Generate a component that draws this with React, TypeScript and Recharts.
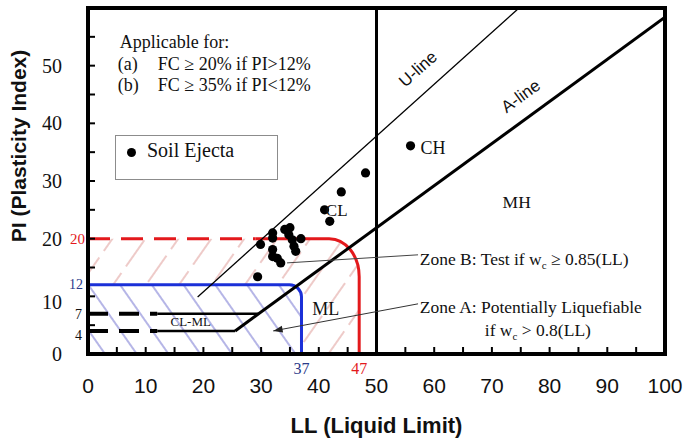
import React from "react";
import {
  ComposedChart, XAxis, YAxis, Line, Scatter, Legend,
  ReferenceArea, ReferenceLine, ReferenceDot,
} from "recharts";

// soil ejecta samples (LL, PI)
const ejectaLL = [48.1, 43.9, 41.0, 41.9, 55.9, 29.9, 32.0, 32.0, 34.1, 35.0, 34.8, 35.4, 36.9, 35.7, 36.0, 32.0, 32.0, 32.8, 33.4, 29.4];
const ejectaPI = [31.4, 28.1, 25.0, 23.0, 36.1, 19.0, 21.0, 20.1, 21.6, 21.9, 20.7, 19.8, 20.0, 18.7, 17.8, 18.1, 16.9, 16.6, 15.8, 13.4];

const xTicks = [0, 5, 10, 15, 20, 25, 30, 35, 40, 45, 50, 55, 60, 65, 70, 75, 80, 85, 90, 95, 100];
const yTicks = [0, 5, 10, 15, 20, 25, 30, 35, 40, 45, 50, 55, 60];

// A-line / U-line end points
const aLineLL = [25.5, 100];
const aLinePI = [4, 58.4];
const uLineLL = [19, 74.7];
const uLinePI = [9.9, 60];

// CL-ML band: PI levels, where the dashes stop, where each meets the A-line
const clmlPI = [4, 7];
const clmlDashEnd = 12;
const clmlEndLL = [25.5, 29.6];

// liquefaction zones (Bray & Sancio)
const zoneBLL = 47;
const zoneBPI = 20;
const zoneBDashEnd = 29;
const zoneALL = 37;
const zoneAPI = 12;

const regionNames = ["CL", "CH", "MH", "ML", "CL-ML"];
const regionLL = [43.1, 59.8, 74.3, 41.2, 17.8];
const regionPI = [24.9, 35.7, 26.3, 7.8, 5.7];

const noteLines = ["Applicable for:", "(a)", "FC \u2265 20% if PI>12%", "(b)", "FC \u2265 35% if PI<12%"];

const ejecta = ejectaLL.map((ll, i) => ({ ll, pi: ejectaPI[i] }));
const aLine = aLineLL.map((ll, i) => ({ ll, pi: aLinePI[i] }));
const uLine = uLineLL.map((ll, i) => ({ ll, pi: uLinePI[i] }));

const SERIF = '"Liberation Serif", "Times New Roman", serif';
const SANS = '"Liberation Sans", Arial, sans-serif';
const RED = "#e3191c";
const BLUE = "#1b30d8";
const regionFont: Record<string, number> = { CL: 17, CH: 18, MH: 17.5, ML: 18, "CL-ML": 13 };

const XTick = (props: any) => {
  const { x, y, payload } = props;
  const v = payload.value;
  return (
    <g>
      <line x1={x} x2={x} y1={y} y2={y - 7} stroke="#000" strokeWidth={2} />
      {v % 10 === 0 && (
        <text x={x} y={y + 39} textAnchor="middle" fontFamily={SANS} fontSize={21} fill="#111">{v}</text>
      )}
    </g>
  );
};

const YTick = (props: any) => {
  const { x, y, payload } = props;
  const v = payload.value;
  const show = v % 10 === 0 && v < 60;
  return (
    <g>
      <line x1={x} x2={x + 7} y1={y} y2={y} stroke="#000" strokeWidth={2} />
      {show && (
        <text x={x - 26} y={y + 7 + (v === 10 ? 6 : 0)} textAnchor="end" fontFamily={SERIF} fontSize={20} fill="#111">{v}</text>
      )}
    </g>
  );
};

const RedZone = (p: any) => {
  const { x, y, width: w, height: h } = p;
  const rx = 30, ry = 38;
  const xs = x + (w * zoneBDashEnd) / zoneBLL;
  const corner = `L${x + w - rx},${y} A${rx},${ry} 0 0 1 ${x + w},${y + ry} L${x + w},${y + h}`;
  return (
    <g>
      <defs>
        <pattern id="redHatch" patternUnits="userSpaceOnUse" width={27} height={40} patternTransform="rotate(35)">
          <line x1={13} y1={0} x2={13} y2={40} stroke="#d98a86" strokeWidth={0.9} strokeDasharray="26 8" />
        </pattern>
      </defs>
      <path d={`M${x},${y + h} L${x},${y} ${corner} Z`} fill="url(#redHatch)" stroke="none" />
      <path d={`M${x},${y} L${xs},${y}`} stroke={RED} strokeWidth={3} strokeDasharray="22 11" fill="none" />
      <path d={`M${xs},${y} ${corner}`} stroke={RED} strokeWidth={3} fill="none" />
    </g>
  );
};

const BlueZone = (p: any) => {
  const { x, y, width: w, height: h } = p;
  const r = 12;
  const corner = `L${x + w - r},${y} A${r},${r} 0 0 1 ${x + w},${y + r} L${x + w},${y + h}`;
  return (
    <g>
      <defs>
        <pattern id="blueHatch" patternUnits="userSpaceOnUse" width={26} height={26} patternTransform="rotate(-35)">
          <line x1={13} y1={0} x2={13} y2={26} stroke="#5a5ac8" strokeWidth={0.9} />
        </pattern>
      </defs>
      <path d={`M${x},${y + h} L${x},${y} ${corner} Z`} fill="#fff" stroke="none" />
      <path d={`M${x},${y + h} L${x},${y} ${corner} Z`} fill="url(#blueHatch)" stroke="none" />
      <path d={`M${x},${y} ${corner}`} stroke={BLUE} strokeWidth={3} fill="none" />
    </g>
  );
};

const Arrow = (p: any) => {
  const { x1, y1, x2, y2 } = p;
  const a = Math.atan2(y2 - y1, x2 - x1);
  const len = 10, spread = 0.35;
  const p1 = `${x1 + len * Math.cos(a - spread)},${y1 + len * Math.sin(a - spread)}`;
  const p2 = `${x1 + len * Math.cos(a + spread)},${y1 + len * Math.sin(a + spread)}`;
  return (
    <g>
      <line x1={x1} y1={y1} x2={x2} y2={y2} stroke="#333" strokeWidth={1} />
      <path d={`M${x1},${y1} L${p1} L${p2} Z`} fill="#222" />
    </g>
  );
};

const textAt = (label: React.ReactNode, opts: any = {}) => (p: any) => (
  <text
    x={p.cx + (opts.dx || 0)}
    y={p.cy + (opts.dy || 0)}
    textAnchor={opts.anchor || "middle"}
    dominantBaseline={opts.baseline || "central"}
    fontFamily={opts.font || SERIF}
    fontSize={opts.size || 17}
    fill={opts.color || "#111"}
    transform={opts.rotate ? `rotate(${opts.rotate} ${p.cx} ${p.cy})` : undefined}
  >
    {label}
  </text>
);

const Dot = (p: any) => <circle cx={p.cx} cy={p.cy} r={4.6} fill="#000" />;

const LegendBox = () => (
  <div style={{ position: "relative", width: 163, height: 45, boxSizing: "border-box", border: "1.5px solid #8c8c8c", background: "#fff" }}>
    <span style={{ position: "absolute", left: 11, top: 12, width: 9, height: 9, borderRadius: "50%", background: "#000" }} />
    <span style={{ position: "absolute", left: 31, top: 2, fontFamily: SERIF, fontSize: 20, lineHeight: "24px", color: "#111", whiteSpace: "nowrap" }}>Soil Ejecta</span>
  </div>
);

export default function App() {
  return (
    <div style={{ position: "absolute", left: 0, top: 0, width: 685, height: 447, background: "#fff" }}>
      <ComposedChart width={685} height={447} margin={{ top: 8, right: 20, bottom: 0, left: 0 }}>
        <XAxis
          type="number" dataKey="ll" domain={[0, 100]} ticks={xTicks} interval={0}
          tick={<XTick />} tickSize={0} tickMargin={0} tickLine={false} axisLine={false}
          height={93} allowDataOverflow
          label={{
            content: (p: any) => (
              <text x={p.viewBox.x + p.viewBox.width / 2} y={p.viewBox.y + 79} textAnchor="middle"
                fontFamily={SANS} fontWeight="bold" fontSize={22} fill="#111">LL (Liquid Limit)</text>
            ),
          }}
        />
        <YAxis
          type="number" dataKey="pi" domain={[0, 60]} ticks={yTicks} interval={0}
          tick={<YTick />} tickSize={0} tickMargin={0} tickLine={false} axisLine={false}
          width={88} allowDataOverflow
          label={{
            content: (p: any) => (
              <text transform={`translate(${p.viewBox.x + 18},${p.viewBox.y + 138}) rotate(-90)`} textAnchor="middle"
                dominantBaseline="central" fontFamily={SANS} fontWeight="bold" fontSize={21} fill="#111">PI (Plasticity Index)</text>
            ),
          }}
        />
        <Legend layout="horizontal" verticalAlign="middle" align="center"
          wrapperStyle={{ left: 115, top: 135, width: 163, height: 45 }} content={() => <LegendBox />} />

        <ReferenceArea x1={0} x2={zoneBLL} y1={0} y2={zoneBPI} shape={RedZone} />
        <ReferenceArea x1={0} x2={zoneALL} y1={0} y2={zoneAPI} shape={BlueZone} />

        {clmlPI.map((pi) => (
          <ReferenceLine key={`d${pi}`} segment={[{ x: 0, y: pi }, { x: clmlDashEnd, y: pi }]}
            stroke="#000" strokeWidth={4} strokeDasharray="20 11" />
        ))}
        {clmlPI.map((pi, i) => (
          <ReferenceLine key={`s${pi}`} segment={[{ x: clmlDashEnd, y: pi }, { x: clmlEndLL[i], y: pi }]}
            stroke="#000" strokeWidth={2.5} />
        ))}

        <ReferenceLine x={50} stroke="#000" strokeWidth={3} />
        <Line data={uLine} dataKey="pi" stroke="#000" strokeWidth={1.3} dot={false} isAnimationActive={false} legendType="none" />
        <Line data={aLine} dataKey="pi" stroke="#000" strokeWidth={3} dot={false} isAnimationActive={false} legendType="none" />

        <ReferenceLine segment={[{ x: 34.5, y: 15.8 }, { x: 57.2, y: 17.2 }]} stroke="#444" strokeWidth={1} />
        <ReferenceLine segment={[{ x: 32.1, y: 4.0 }, { x: 57.2, y: 8.7 }]} shape={Arrow} />

        <Scatter data={ejecta} dataKey="pi" name="Soil Ejecta" fill="#000" shape={Dot} isAnimationActive={false} />

        {regionNames.map((name, i) => (
          <ReferenceDot key={name} x={regionLL[i]} y={regionPI[i]} r={0}
            shape={textAt(name, { size: regionFont[name] })} />
        ))}

        <ReferenceDot x={57.2} y={49.4} r={0} shape={textAt("U-line", { font: SANS, size: 17, rotate: -42 })} />
        <ReferenceDot x={75.0} y={44.7} r={0} shape={textAt("A-line", { font: SANS, size: 17, rotate: -36 })} />

        <ReferenceDot x={5.5} y={53.1} r={0} shape={(p: any) => (
          <text fontFamily={SERIF} fontSize={18} fill="#111">
            <tspan x={p.cx} y={p.cy}>{noteLines[0]}</tspan>
            <tspan x={p.cx - 2} y={p.cy + 22}>{noteLines[1]}</tspan>
            <tspan x={p.cx + 38} y={p.cy + 22}>{noteLines[2]}</tspan>
            <tspan x={p.cx - 2} y={p.cy + 43}>{noteLines[3]}</tspan>
            <tspan x={p.cx + 38} y={p.cy + 43}>{noteLines[4]}</tspan>
          </text>
        )} />

        <ReferenceDot x={57.5} y={15.4} r={0} shape={(p: any) => (
          <text x={p.cx} y={p.cy} fontFamily={SERIF} fontSize={17.5} fill="#111">
            Zone B: Test if w<tspan dy={4} fontSize={11}>c</tspan><tspan dy={-4}> {"\u2265"} 0.85(LL)</tspan>
          </text>
        )} />
        <ReferenceDot x={57.5} y={7.1} r={0} shape={(p: any) => (
          <text fontFamily={SERIF} fontSize={17.5} fill="#111">
            <tspan x={p.cx} y={p.cy}>Zone A: Potentially Liquefiable</tspan>
            <tspan x={p.cx + 65} y={p.cy + 23}>if w</tspan><tspan dy={4} fontSize={11}>c</tspan><tspan dy={-4}> {">"} 0.8(LL)</tspan>
          </text>
        )} />

        {/* side labels for the zone limits */}
        <ReferenceDot x={0} y={zoneBPI} r={0} shape={textAt(String(zoneBPI), { anchor: "end", dx: -3, size: 15, color: RED })} />
        <ReferenceDot x={0} y={zoneAPI} r={0} shape={textAt(String(zoneAPI), { anchor: "end", dx: -5, size: 14, color: "#2b3a8a" })} />
        {clmlPI.map((pi) => (
          <ReferenceDot key={`l${pi}`} x={0} y={pi} r={0} shape={textAt(String(pi), { anchor: "end", dx: -6, dy: pi === 4 ? 5 : 1, size: 14 })} />
        ))}
        <ReferenceDot x={zoneALL} y={0} r={0} shape={textAt(String(zoneALL), { dy: 14, size: 16, color: "#2b3a8a" })} />
        <ReferenceDot x={zoneBLL} y={0} r={0} shape={textAt(String(zoneBLL), { dy: 14, size: 16, color: RED })} />

        <ReferenceArea x1={0} x2={100} y1={0} y2={60} fill="none" fillOpacity={0} stroke="#000" strokeWidth={4} />
      </ComposedChart>
    </div>
  );
}
